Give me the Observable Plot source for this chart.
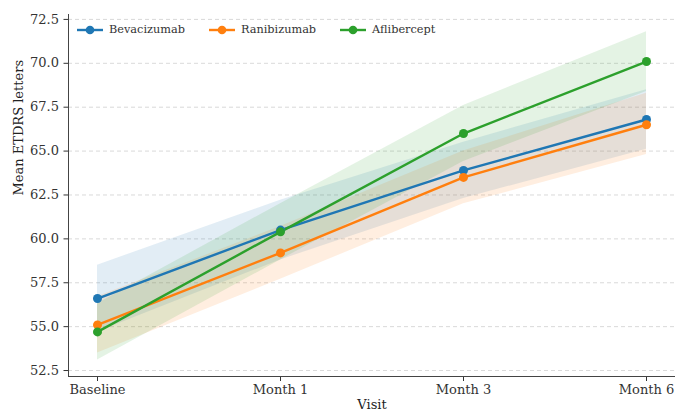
<!DOCTYPE html>
<html>
<head>
<meta charset="utf-8">
<script src="https://cdn.jsdelivr.net/npm/d3@7"></script>
<script src="https://cdn.jsdelivr.net/npm/@observablehq/plot@0.6"></script>
<style>
  html, body { margin: 0; padding: 0; background: #fff; }
  #wrap { position: relative; width: 675px; height: 412px; font-family: "DejaVu Serif", serif; }
  #legend { position: absolute; left: 77px; top: 22px; display: flex; font-size: 11.3px; color: #333; line-height: 16px; }
  #legend .item { display: flex; align-items: center; margin-right: 24px; }
  #legend svg { margin-right: 6px; }
</style>
</head>
<body>
<div id="wrap"><div id="legend"></div></div>
<script>
const visits = ["Baseline", "Month 1", "Month 3", "Month 6"];
const seriesNames = ["Bevacizumab", "Ranibizumab", "Aflibercept"];
const colors = ["#1f77b4", "#ff7f0e", "#2ca02c"];

const bevMean = [56.6, 60.5, 63.9, 66.8];
const bevLo   = [54.7, 58.8, 62.3, 65.1];
const bevHi   = [58.5, 62.2, 65.5, 68.5];

const ranMean = [55.1, 59.2, 63.5, 66.5];
const ranLo   = [53.5, 57.7, 62.0, 64.8];
const ranHi   = [56.7, 60.7, 65.0, 68.3];

const aflMean = [54.7, 60.4, 66.0, 70.1];
const aflLo   = [53.1, 58.8, 64.4, 68.4];
const aflHi   = [56.3, 62.0, 67.6, 71.8];

const yTicks = [52.5, 55.0, 57.5, 60.0, 62.5, 65.0, 67.5, 70.0, 72.5];

const means = [bevMean, ranMean, aflMean];
const los = [bevLo, ranLo, aflLo];
const his = [bevHi, ranHi, aflHi];

const data = [];
seriesNames.forEach((s, i) => {
  visits.forEach((v, j) => {
    data.push({series: s, visit: v, mean: means[i][j], lo: los[i][j], hi: his[i][j]});
  });
});

const chart = Plot.plot({
  width: 675,
  height: 412,
  marginLeft: 68,
  marginRight: 0,
  marginTop: 14,
  marginBottom: 36,
  style: {fontFamily: "DejaVu Serif, serif", fontSize: "13px", color: "#333", background: "white"},
  x: {type: "point", domain: visits, padding: 0.15, label: null},
  y: {domain: [52.16, 72.78], label: null},
  color: {domain: seriesNames, range: colors},
  marks: [
    Plot.gridY(yTicks, {stroke: "#bbb", strokeOpacity: 0.7, strokeDasharray: "4,3", strokeWidth: 0.8}),
    Plot.areaY(data, {x: "visit", y1: "lo", y2: "hi", z: "series", fill: "series", fillOpacity: 0.13}),
    Plot.line(data, {x: "visit", y: "mean", z: "series", stroke: "series", strokeWidth: 2.4}),
    Plot.dot(data, {x: "visit", y: "mean", fill: "series", r: 4.5}),
    Plot.axisY({ticks: yTicks, tickFormat: d3.format(".1f"), tickSize: 4.5, tickPadding: 5, label: null, fontSize: 13, color: "#333"}),
    Plot.axisX({tickSize: 5, tickPadding: 3, label: null, fontSize: 13, color: "#333"}),
    Plot.frame({anchor: "left", stroke: "#444", strokeWidth: 1}),
    Plot.frame({anchor: "bottom", stroke: "#444", strokeWidth: 1}),
    Plot.text(["Visit"], {frameAnchor: "bottom", dy: 32, fontSize: 13, fill: "#222"}),
    Plot.text(["Mean ETDRS letters"], {frameAnchor: "left", dx: -50, rotate: -90, fontSize: 13, fill: "#222"})
  ]
});
document.getElementById("wrap").prepend(chart);

const legend = document.getElementById("legend");
seriesNames.forEach((s, i) => {
  const item = document.createElement("div");
  item.className = "item";
  item.innerHTML = `<svg width="26" height="10"><line x1="0" y1="5" x2="26" y2="5" stroke="${colors[i]}" stroke-width="2.4"/><circle cx="13" cy="5" r="4.3" fill="${colors[i]}"/></svg><span>${s}</span>`;
  legend.appendChild(item);
});
</script>
</body>
</html>
